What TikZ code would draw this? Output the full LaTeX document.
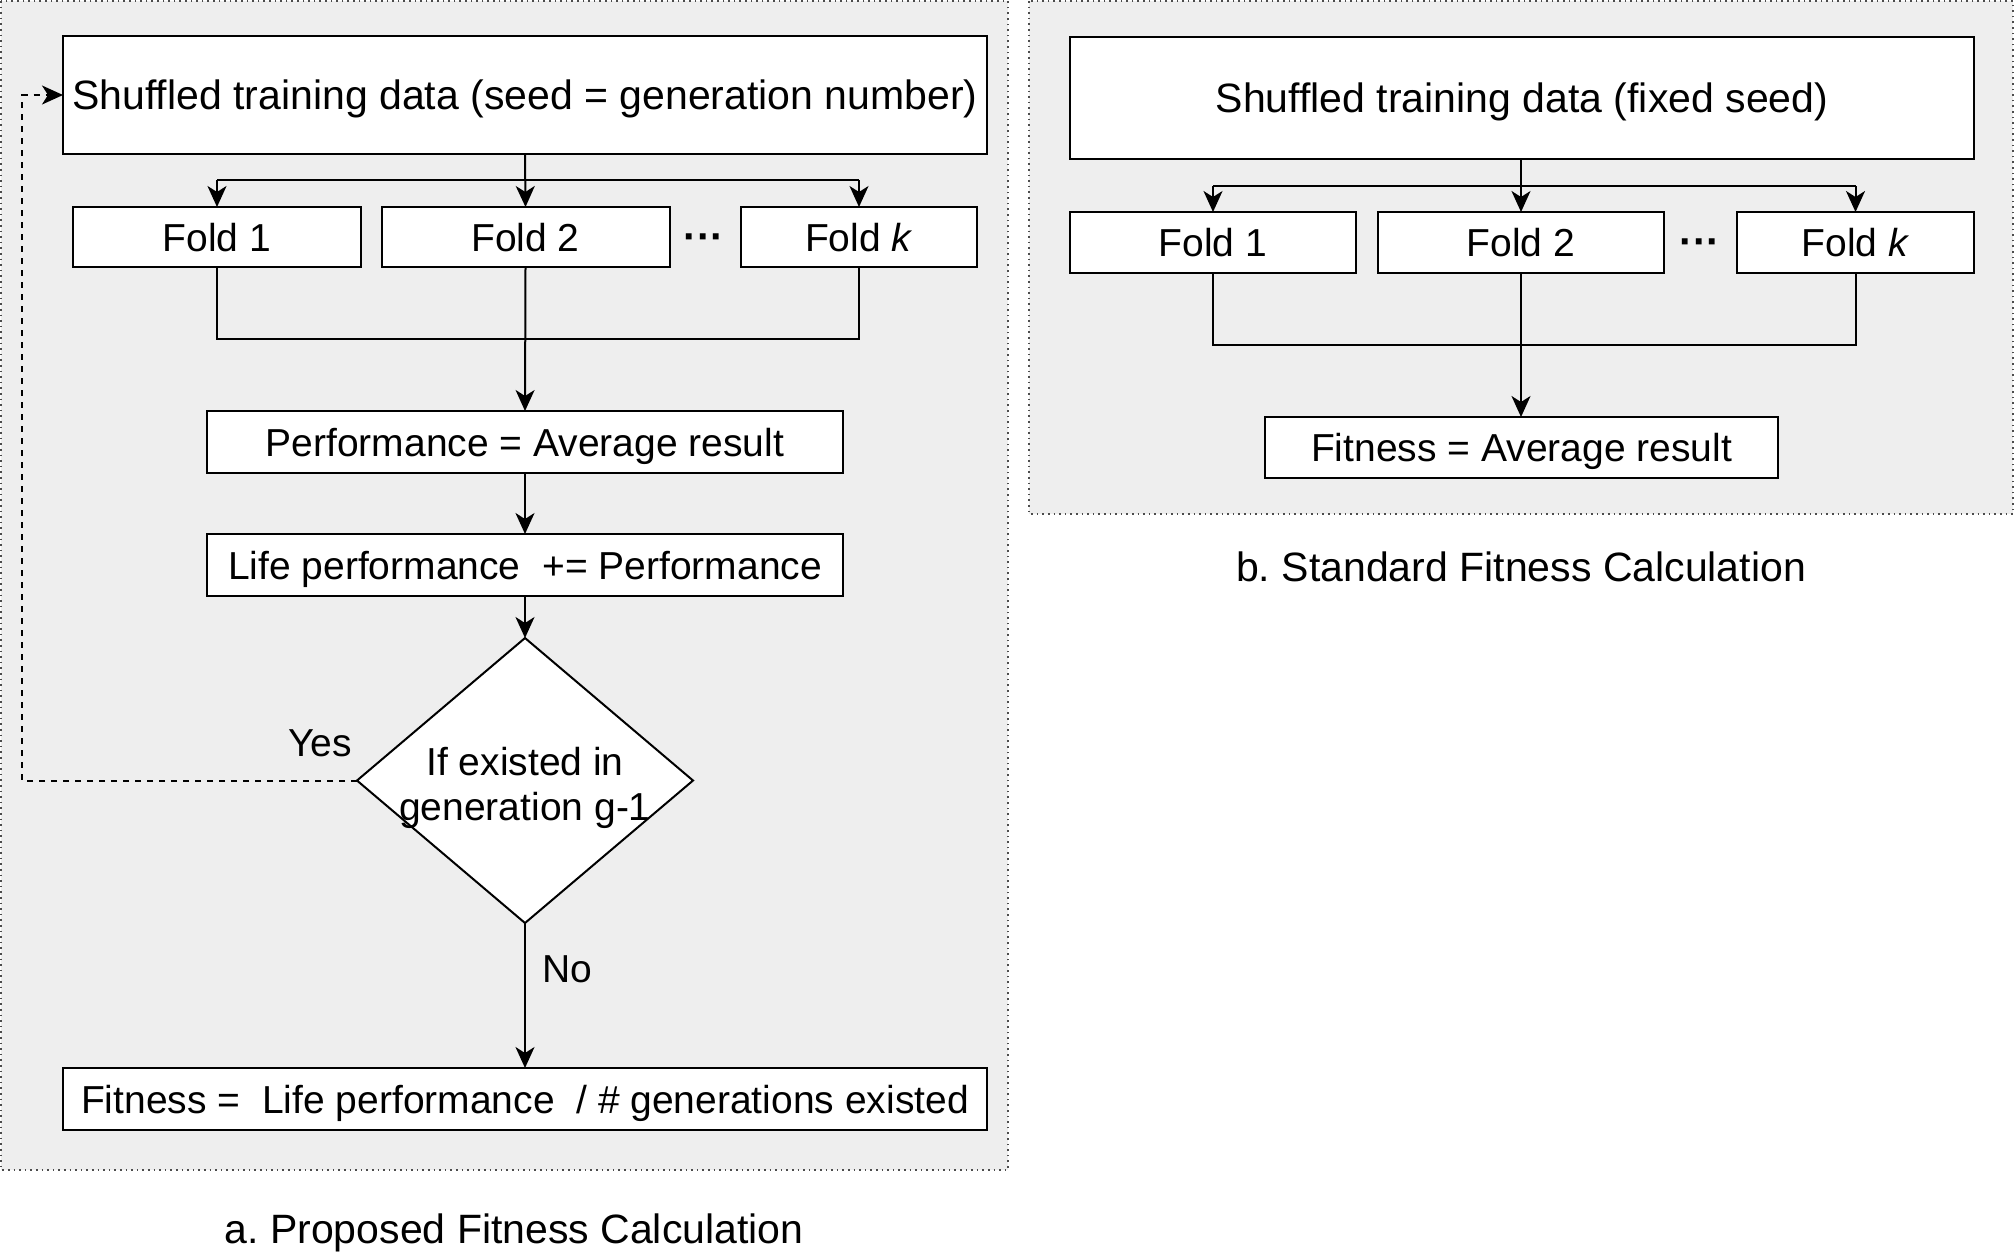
\documentclass[tikz,border=0pt]{standalone}
\usepackage{fontspec}
\setmainfont{Liberation Sans}
\usetikzlibrary{shapes.geometric,arrows.meta}
\definecolor{panelgray}{HTML}{EEEEEE}
\frenchspacing
\begin{document}
\begin{tikzpicture}[x=0.5pt,y=-0.5pt,
  every node/.style={font=\fontsize{19.5}{23}\selectfont, text=black},
  big/.style={font=\fontsize{20.5}{25}\selectfont},
  box/.style={draw=black, fill=white, line width=1pt, inner sep=0pt, outer sep=0pt, text depth=0pt},
  panel/.style={draw=black!70, dotted, fill=panelgray, line width=0.8pt},
  conn/.style={draw=black, line width=1pt},
  arr/.style={conn, -{Stealth[length=10.5pt,width=9.5pt,inset=3pt]}},
  lbl/.style={inner sep=0pt}
  ]
\useasboundingbox (0,0) rectangle (2016,1255);
% panels
\path[panel] (1,1) rectangle (1008,1170);
\path[panel] (1029,1) rectangle (2013,514);

% ---------------- panel a ----------------
\node[box, big, minimum width=462pt, minimum height=59pt] (ta) at (525,95) {Shuffled training data (seed = generation number)};
\node[box, minimum width=144pt, minimum height=30pt] (fa1) at (217,237) {Fold 1};
\node[box, minimum width=144pt, minimum height=30pt] (fa2) at (525.5,237) {Fold 2};
\node[lbl, big] (dotsa) at (704,242) {\textbf{···}};
\node[box, minimum width=118pt, minimum height=30pt] (fak) at (859,237) {Fold \textit{k}};
\node[box, minimum width=318pt, minimum height=31pt] (perf) at (525,442) {Performance = Average result};
\node[box, minimum width=318pt, minimum height=31pt] (life) at (525,565) {Life performance\ \ += Performance};
\node[box, diamond, minimum width=168pt, minimum height=142.5pt] (dec) at (525,780.5) {};
\node[align=center, inner sep=0pt, font=\fontsize{19.5}{22.5}\selectfont] (dectext) at (525,788) {If existed in\\generation g-1};
\node[box, minimum width=462pt, minimum height=31pt] (fita) at (525,1099) {Fitness =\ \ Life performance\ \ / \# generations existed};
\node[lbl] (yes) at (320,743) {Yes};
\node[lbl] (no) at (567,969) {No};
\node[lbl, big] (capa) at (514,1233) {a. Proposed Fitness Calculation};

\coordinate (abr) at (525,180);
\coordinate (amg) at (525,339);
\coordinate (aloop) at (22,780.5);
\draw[arr] (ta.south) -- (fa2.north);
\draw[conn] (fa1.north |- abr) -- (fak.north |- abr);
\draw[arr] (fa1.north |- abr) -- (fa1.north);
\draw[arr] (fak.north |- abr) -- (fak.north);
\draw[conn] (fa1.south) -- (fa1.south |- amg) -- (fak.south |- amg) -- (fak.south);
\draw[arr] (fa2.south) -- (perf.north);
\draw[arr] (perf.south) -- (life.north);
\draw[arr] (life.south) -- (dec.north);
\draw[arr] (dec.south) -- (fita.north);
\draw[arr, dashed] (dec.west) -- (aloop) |- (ta.west);

% ---------------- panel b ----------------
\node[box, big, minimum width=452pt, minimum height=61pt] (tb) at (1522,98) {Shuffled training data (fixed seed)};
\node[box, minimum width=143pt, minimum height=30.5pt] (fb1) at (1213,242.5) {Fold 1};
\node[box, minimum width=143pt, minimum height=30.5pt] (fb2) at (1521,242.5) {Fold 2};
\node[lbl, big] (dotsb) at (1700,247) {\textbf{···}};
\node[box, minimum width=118.5pt, minimum height=30.5pt] (fbk) at (1855.5,242.5) {Fold \textit{k}};
\node[box, minimum width=256.5pt, minimum height=30.5pt] (fitb) at (1521.5,447.5) {Fitness = Average result};
\node[lbl, big] (capb) at (1521,567) {b. Standard Fitness Calculation};

\coordinate (bbr) at (1521,186);
\coordinate (bmg) at (1521,345);
\draw[arr] (tb.south -| fb2.north) -- (fb2.north);
\draw[conn] (fb1.north |- bbr) -- (fbk.north |- bbr);
\draw[arr] (fb1.north |- bbr) -- (fb1.north);
\draw[arr] (fbk.north |- bbr) -- (fbk.north);
\draw[conn] (fb1.south) -- (fb1.south |- bmg) -- (fbk.south |- bmg) -- (fbk.south);
\draw[arr] (fb2.south) -- (fitb.north -| fb2.south);
\end{tikzpicture}
\end{document}
